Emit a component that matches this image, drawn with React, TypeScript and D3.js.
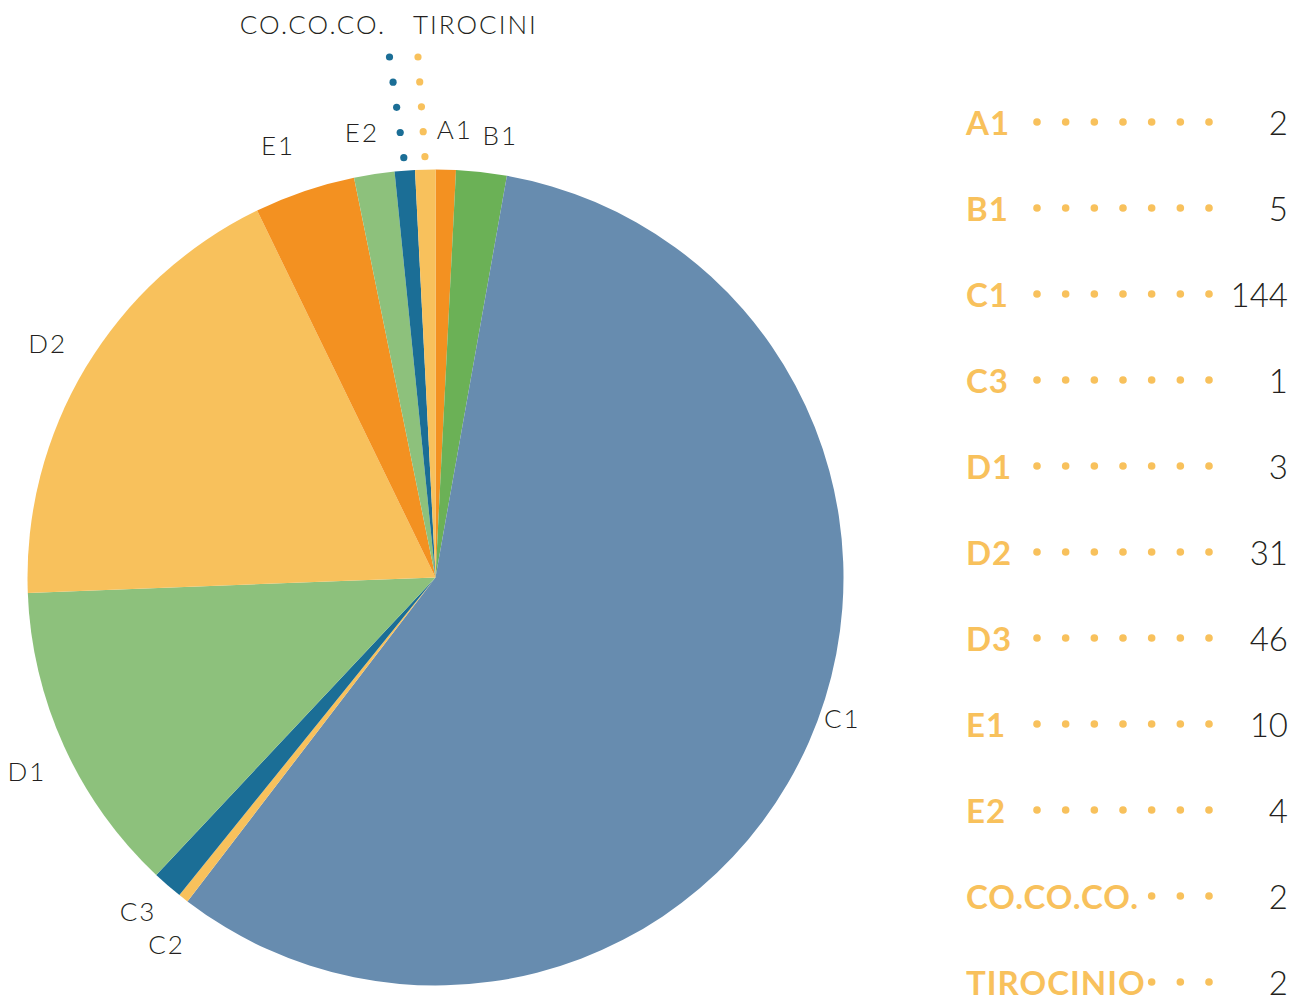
import React, { useEffect, useRef } from "react";
import * as d3 from "d3";

// Pie data (clockwise from 12 o'clock)
const sliceLabels = ["A1", "B1", "C1", "C2", "C3", "D1", "D2", "E1", "E2", "CO.CO.CO.", "TIROCINI"];
const sliceValues = [2, 5, 144, 1, 3, 31, 46, 10, 4, 2, 2];
const sliceColors = ["#F39121", "#6BB156", "#678CAF", "#F8C15C", "#1B6E96", "#8DC17C", "#F8C15C", "#F39121", "#8DC17C", "#1B6E96", "#F8C15C"];

// Legend table
const legendLabels = ["A1", "B1", "C1", "C3", "D1", "D2", "D3", "E1", "E2", "CO.CO.CO.", "TIROCINIO"];
const legendValues = [2, 5, 144, 1, 3, 31, 46, 10, 4, 2, 2];

const W = 1292;
const H = 1001;

export default function App() {
  const ref = useRef<SVGSVGElement>(null);

  useEffect(() => {
    const svg = d3.select(ref.current);
    svg.selectAll("*").remove();

    const cx = 435.5;
    const cy = 577.5;
    const R = 408;
    const font = "Lato, 'DejaVu Sans', sans-serif";

    const data = sliceLabels.map((l, i) => ({ label: l, value: sliceValues[i], color: sliceColors[i] }));
    const pie = d3.pie<any>().sort(null).value((d: any) => d.value);
    const arcs = pie(data);
    const arc = d3.arc<any>().innerRadius(0).outerRadius(R);

    const g = svg.append("g").attr("transform", `translate(${cx},${cy})`);
    g.selectAll("path.slice")
      .data(arcs)
      .join("path")
      .attr("class", "slice")
      .attr("d", arc as any)
      .attr("fill", (d: any) => d.data.color);

    const mid = (d: any) => (d.startAngle + d.endAngle) / 2;
    const polar = (a: number, r: number) => [r * Math.sin(a), -r * Math.cos(a)];

    // Regular outside labels
    const nudges: Record<string, [number, number]> = {
      C1: [-5, -40],
      C2: [9, 14],
      C3: [-2, -5],
      A1: [8, 2],
      B1: [14, 6],
      E1: [-13, -5],
      D1: [1, 8],
      D2: [-2, -2],
      E2: [-6, 0],
    };
    const labelR = 450;
    const outside = arcs.filter((d: any) => d.data.label !== "CO.CO.CO." && d.data.label !== "TIROCINI");
    g.selectAll("text.lbl")
      .data(outside)
      .join("text")
      .attr("class", "lbl")
      .attr("x", (d: any) => polar(mid(d), labelR)[0] + (nudges[d.data.label]?.[0] ?? 0))
      .attr("y", (d: any) => polar(mid(d), labelR)[1] + (nudges[d.data.label]?.[1] ?? 0) + 9)
      .attr("text-anchor", "middle")
      .attr("font-family", font)
      .attr("font-weight", 300)
      .attr("font-size", 26)
      .attr("letter-spacing", 2)
      .attr("fill", "#231F20")
      .text((d: any) => d.data.label);

    // Leader-dot labels for the two tiny slices at the top
    const topLabels = [
      { label: "CO.CO.CO.", endX: 389.5 - cx, anchor: "end", textX: 386 - cx },
      { label: "TIROCINI", endX: 418 - cx, anchor: "start", textX: 413 - cx },
    ];
    const endY = 57 - cy;
    topLabels.forEach((t) => {
      const d: any = arcs.find((a: any) => a.data.label === t.label);
      const [sx, sy] = polar(mid(d), R + 13);
      const xs = d3.scaleLinear().domain([0, 4]).range([sx, t.endX]);
      const ys = d3.scaleLinear().domain([0, 4]).range([sy, endY]);
      g.selectAll(null)
        .data(d3.range(5))
        .join("circle")
        .attr("cx", (i: number) => xs(i))
        .attr("cy", (i: number) => ys(i))
        .attr("r", 3.6)
        .attr("fill", d.data.color);
      g.append("text")
        .attr("x", t.textX)
        .attr("y", 34 - cy)
        .attr("text-anchor", t.anchor)
        .attr("font-family", font)
        .attr("font-weight", 300)
        .attr("font-size", 26)
        .attr("letter-spacing", 2)
        .attr("fill", "#231F20")
        .text(t.label);
    });

    // Legend table
    const rowY = d3.scaleLinear().domain([0, legendLabels.length - 1]).range([123, 983]);
    const dotX = d3.scaleLinear().domain([0, 6]).range([1037, 1209]);
    const lg = svg.append("g");
    legendLabels.forEach((lab, i) => {
      const y = rowY(i);
      const row = lg.append("g");
      row.selectAll("circle")
        .data(d3.range(7))
        .join("circle")
        .attr("cx", (k: number) => dotX(k))
        .attr("cy", y - 1)
        .attr("r", 3.8)
        .attr("fill", "#F8C15C");
      const bg = row.append("rect").attr("fill", "#ffffff");
      const txt = row
        .append("text")
        .attr("x", 966)
        .attr("y", y + 12)
        .attr("font-family", font)
        .attr("font-weight", 700)
        .attr("font-size", 33)
        .attr("letter-spacing", 1)
        .attr("fill", "#F8C15C")
        .text(lab);
      const bb = (txt.node() as SVGTextElement).getBBox();
      bg.attr("x", bb.x).attr("y", y - 12).attr("width", bb.width + 1).attr("height", 24);
      row
        .append("text")
        .attr("x", 1288)
        .attr("y", y + 12)
        .attr("text-anchor", "end")
        .attr("font-family", font)
        .attr("font-weight", 300)
        .attr("font-size", 33)
        .attr("fill", "#231F20")
        .text(String(legendValues[i]));
    });
  }, []);

  return (
    <svg
      ref={ref}
      width={W}
      height={H}
      style={{ position: "absolute", left: 0, top: 0, background: "#ffffff" }}
    />
  );
}
